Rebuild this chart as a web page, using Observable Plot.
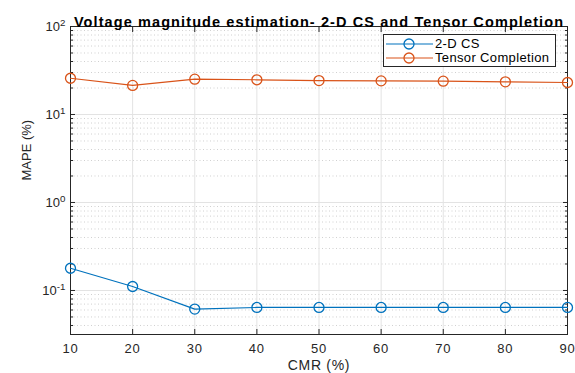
<!DOCTYPE html>
<html><head><meta charset="utf-8">
<script src="https://cdn.jsdelivr.net/npm/d3@7"></script>
<script src="https://cdn.jsdelivr.net/npm/@observablehq/plot@0.6"></script>
<style>
body{margin:0;background:#fff;font-family:"Liberation Sans",Arial,sans-serif;}
#wrap{position:relative;width:575px;height:373px;}
#legend{position:absolute;left:383px;top:34px;width:171px;height:31px;border:1px solid #262626;background:#fff;font-size:13px;letter-spacing:0.35px;color:#000;}
#legend .row{position:absolute;left:0;height:15px;line-height:15px;}
#legend svg{position:absolute;left:0;top:0;}
#legend span{position:absolute;left:51px;white-space:nowrap;}
</style></head>
<body><div id="wrap"></div>
<script>
const cmr = [10, 20, 30, 40, 50, 60, 70, 80, 90];
const cs2d = [0.179, 0.111, 0.0614, 0.0641, 0.0641, 0.0641, 0.0641, 0.0641, 0.0641];
const tensor = [25.8, 21.4, 25.2, 24.8, 24.3, 24.1, 23.9, 23.5, 23.1];
const seriesNames = ["2-D CS", "Tensor Completion"];
const colors = ["#0072BD", "#D95319"];
const xTicks = [10, 20, 30, 40, 50, 60, 70, 80, 90];
const yMajor = [0.1, 1, 10, 100];
const yMinor = [0.04,0.05,0.06,0.07,0.08,0.09,0.2,0.3,0.4,0.5,0.6,0.7,0.8,0.9,2,3,4,5,6,7,8,9,20,30,40,50,60,70,80,90];
const title = "Voltage magnitude estimation- 2-D CS and Tensor Completion";

const data = [];
cmr.forEach((c,i)=>{
  data.push({cmr:c, v:cs2d[i], s:seriesNames[0]});
});
cmr.forEach((c,i)=>{
  data.push({cmr:c, v:tensor[i], s:seriesNames[1]});
});

const axisCol = "#262626";
const chart = Plot.plot({
  width: 575, height: 373,
  marginLeft: 70, marginRight: 8, marginTop: 26, marginBottom: 39,
  style: {fontFamily: '"Liberation Sans", Arial, sans-serif', fontSize: "12px", color: axisCol, background: "#fff"},
  x: {domain: [10, 90]},
  y: {type: "log", domain: [0.0316, 100]},
  color: {domain: seriesNames, range: colors},
  marks: [
    Plot.gridY(yMinor, {stroke: "#c4c4c4", strokeOpacity: 1, strokeDasharray: "1,2.5", strokeWidth: 0.8}),
    Plot.gridY(yMajor, {stroke: "#e3e3e3", strokeOpacity: 1, strokeWidth: 1}),
    Plot.gridX(xTicks, {stroke: "#e3e3e3", strokeOpacity: 1, strokeWidth: 1}),
    Plot.frame({stroke: axisCol, strokeWidth: 1}),
    Plot.axisX({ticks: xTicks, tickSize: -5, tickPadding: 14, tickFormat: d => String(d), fontSize: 13, label: null}),
    Plot.axisX({anchor: "top", ticks: xTicks, tickSize: -5, fill: "none", label: null}),
    Plot.axisY({ticks: yMajor, tickSize: -5, tickPadding: 10, tickFormat: d => "10^" + Math.round(Math.log10(d)), fontSize: 13, label: null}),
    Plot.axisY({ticks: yMinor, tickSize: -3, fill: "none", label: null}),
    Plot.axisY({anchor: "right", ticks: yMajor, tickSize: -5, fill: "none", label: null}),
    Plot.axisY({anchor: "right", ticks: yMinor, tickSize: -3, fill: "none", label: null}),
    Plot.line(data, {x: "cmr", y: "v", z: "s", stroke: "s", strokeWidth: 1.2}),
    Plot.dot(data, {x: "cmr", y: "v", stroke: "s", r: 5, strokeWidth: 1.3, fill: "none"}),
    Plot.text([title], {frameAnchor: "top", dy: -10, fontWeight: "bold", fontSize: 14.5, fill: "#000"}),
    Plot.text(["CMR (%)"], {frameAnchor: "bottom", dy: 35, fontSize: 14, fill: axisCol}),
    Plot.text(["MAPE (%)"], {frameAnchor: "left", dx: -44, rotate: -90, fontSize: 13, fill: axisCol})
  ]
});
// superscript exponents in y tick labels
d3.select(chart).selectAll("text").each(function(){
  const t = this.textContent;
  const m = /^10\^(-?\d+)$/.exec(t);
  if (m) {
    this.textContent = "";
    const sel = d3.select(this);
    sel.append("tspan").text("10");
    sel.append("tspan").attr("dy", "-0.45em").attr("font-size", "0.75em").text(m[1]);
  }
});
// horizontal letter spacing to mimic the reference's wider glyphs
d3.select(chart).selectAll("text").each(function(){
  const t = this.textContent;
  if (t === title) d3.select(this).attr("letter-spacing", "1.1px");
  else if (t === "CMR (%)") d3.select(this).attr("letter-spacing", "0.7px");
  else if (/^\d0$/.test(t)) d3.select(this).attr("letter-spacing", "0.8px");
});
document.getElementById("wrap").appendChild(chart);

// legend
const leg = d3.select("#wrap").append("div").attr("id", "legend");
seriesNames.forEach((n, i) => {
  const row = leg.append("div").attr("class", "row").style("top", (1 + i * 14) + "px").style("width", "171px");
  const svg = row.append("svg").attr("width", 50).attr("height", 15);
  svg.append("line").attr("x1", 2).attr("x2", 49).attr("y1", 8).attr("y2", 8).attr("stroke", colors[i]).attr("stroke-width", 1.2);
  svg.append("circle").attr("cx", 25).attr("cy", 8).attr("r", 5).attr("fill", "none").attr("stroke", colors[i]).attr("stroke-width", 1.3);
  row.append("span").text(n);
});
</script>
</body></html>
